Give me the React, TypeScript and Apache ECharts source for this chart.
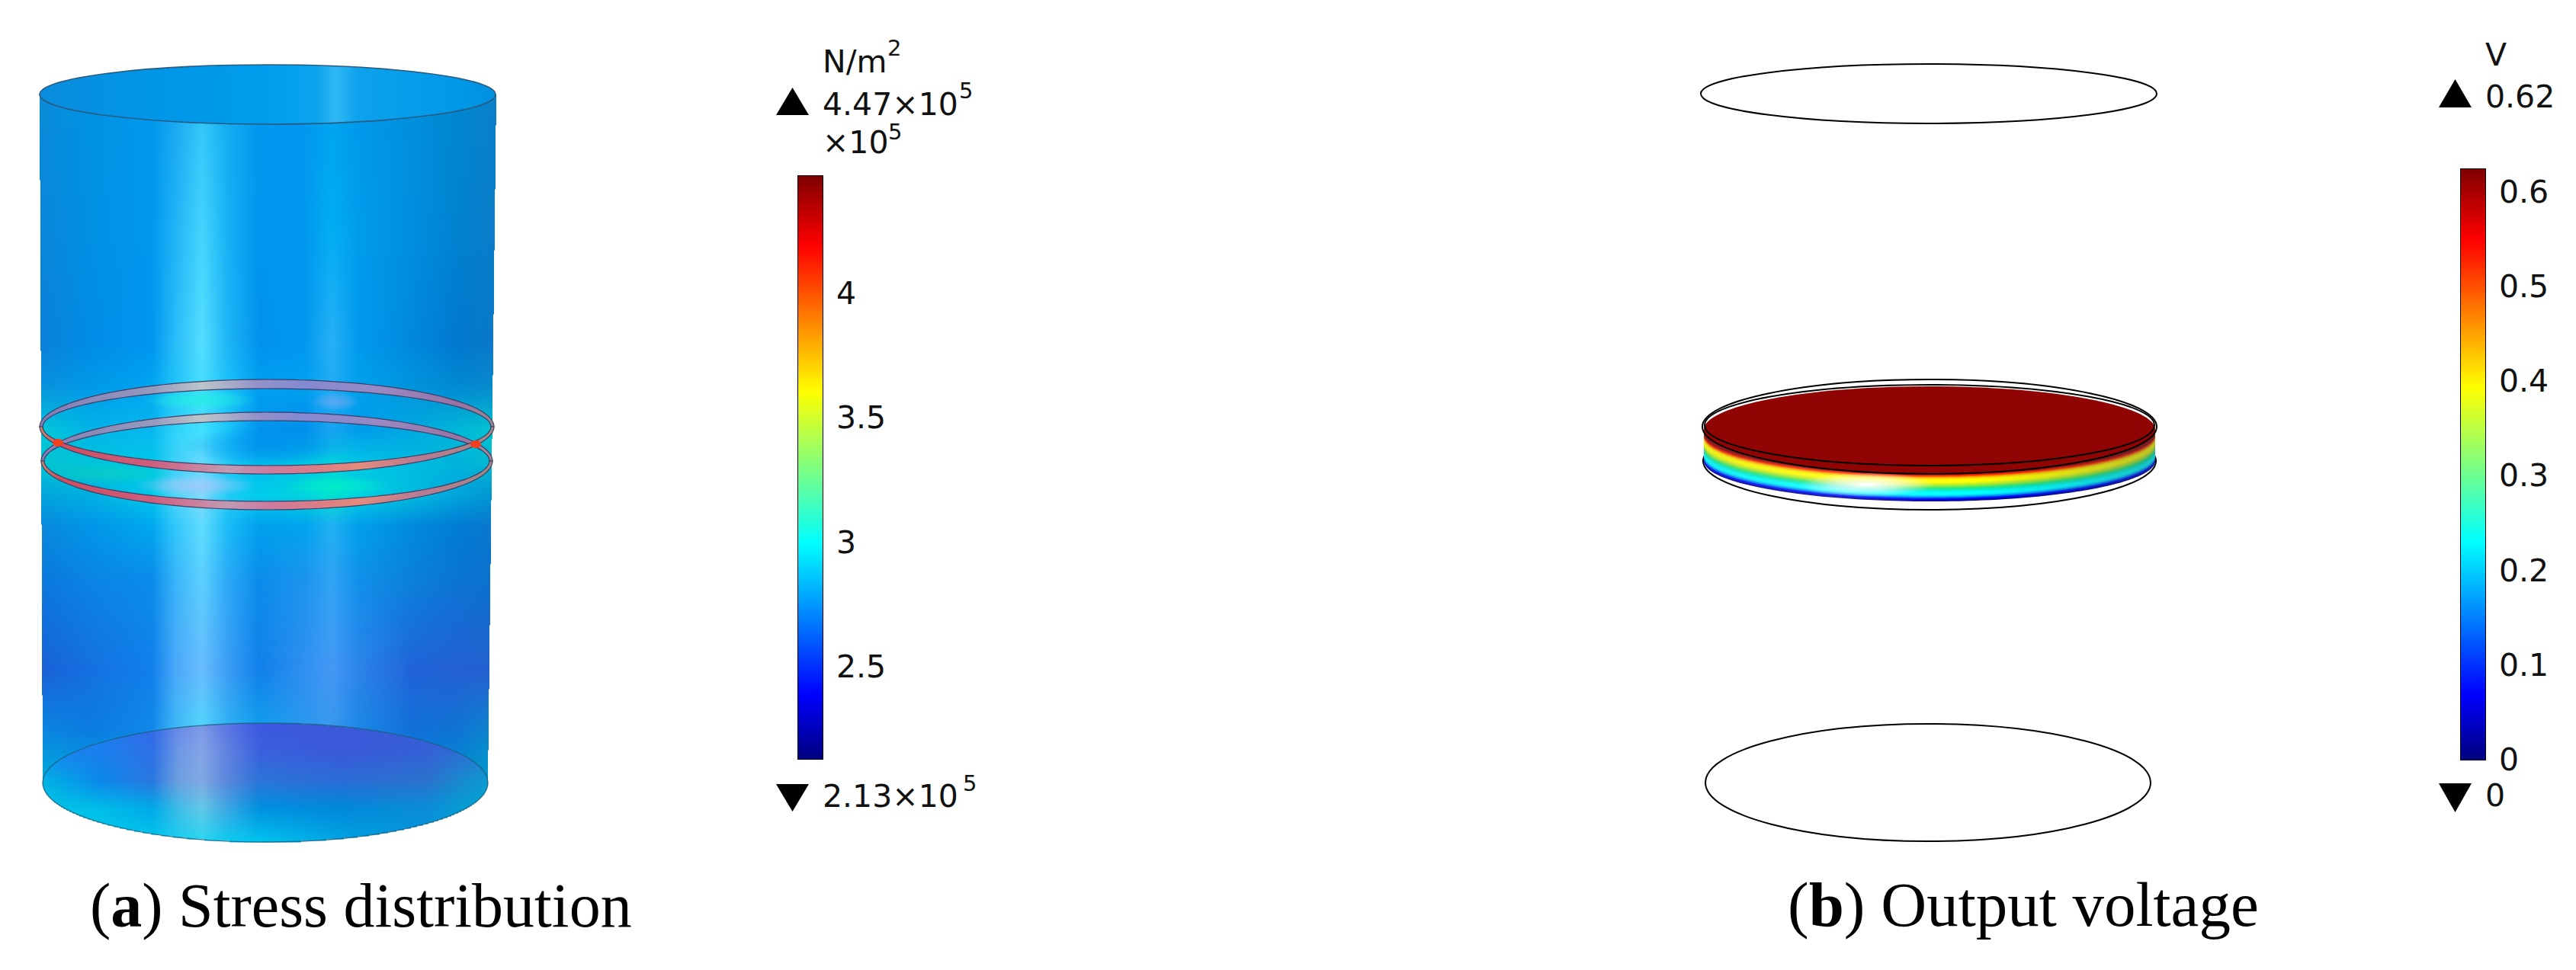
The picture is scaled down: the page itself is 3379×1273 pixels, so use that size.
import React, { useEffect, useRef } from "react";
import * as echarts from "echarts";

const stressTicks = [2.5, 3, 3.5, 4];
const stressMin = 2.13;
const stressMax = 4.47;
const voltageTicks = [0, 0.1, 0.2, 0.3, 0.4, 0.5, 0.6];
const voltageMin = 0;
const voltageMax = 0.624;
const jetStops = [
  [0, "#00007f"], [0.11, "#0000ff"], [0.37, "#00ffff"], [0.5, "#7fff7f"],
  [0.63, "#ffff00"], [0.88, "#ff0000"], [1, "#7f0000"],
] as [number, string][];

// Surface shading: colour profiles across the cylinder at several heights.
const bodyX = [52, 120, 200, 230, 265, 300, 340, 400, 435, 470, 540, 600, 650];
const bodyRows: [number, string[]][] = [
  [124, ["#0a8cd8", "#0092e4", "#0098ea", "#18a6f0", "#30c4f8", "#10acf0", "#0098ee", "#0098ee", "#00a2f0", "#0098ea", "#0090dc", "#0086d0", "#0a80c8"]],
  [300, ["#0a86d8", "#0090e4", "#0098ee", "#20b4f6", "#44d4fc", "#14b0f4", "#0096ee", "#0098ee", "#00aef2", "#009cec", "#008ede", "#0082d0", "#0a7cc8"]],
  [450, ["#0a80d8", "#008ce6", "#0096f0", "#28bcf8", "#54defe", "#1cb4f6", "#0092ee", "#0098f0", "#28b0f6", "#009aee", "#0088de", "#0078ce", "#0a78c8"]],
  [505, ["#0a90dc", "#0098e8", "#00a4f0", "#20c4f8", "#48dcfe", "#18c0f8", "#00a0f0", "#00a0f0", "#20acf4", "#00a0ec", "#0094dc", "#0088d2", "#0a88cc"]],
  [565, ["#00c8d8", "#00b4e8", "#08b8f0", "#30d4fa", "#40e0fe", "#18c4f8", "#0094ee", "#0090ec", "#18a4f0", "#009cec", "#00a8e0", "#00b8d8", "#00c4d0"]],
  [610, ["#00c4d0", "#00c4d8", "#00c8e8", "#40d0f8", "#68d8fc", "#20c8f6", "#00bcec", "#00c8e4", "#00d4dc", "#00c8e4", "#00bce0", "#00b4dc", "#00b8d0"]],
  [650, ["#00a4dc", "#00b0e0", "#00c8e8", "#50d4f8", "#80d8fc", "#20ccf6", "#00ccec", "#00d4dc", "#00e0d0", "#00d0e0", "#00bce0", "#00a4dc", "#0094d0"]],
  [690, ["#0a88dc", "#0096e8", "#00a8f0", "#30c8fa", "#60dcfe", "#18bcf6", "#00a0ee", "#00a4ee", "#20b0f2", "#00a0ec", "#008adc", "#007cd4", "#0a76cc"]],
  [760, ["#0a78dc", "#0a84e4", "#0a8cea", "#38b4f8", "#5cd0fe", "#2aa8f6", "#0a8cea", "#1c94ee", "#30a4f4", "#1090ea", "#0a80dc", "#0a74d4", "#0a72cc"]],
  [880, ["#1a60d8", "#1470e0", "#1080ec", "#4aa8f8", "#68bcfc", "#3a9cf4", "#1080ea", "#3090f0", "#4498f4", "#2c84ea", "#2064d8", "#2460d4", "#2460d0"]],
  [960, ["#0a86e0", "#0a7ce0", "#1088e8", "#3cb8f6", "#52d8fc", "#2cb0f2", "#10a0ec", "#2a98ee", "#3898ee", "#1a88e6", "#1070d8", "#0e74d4", "#0a88cc"]],
  [1030, ["#00b0d8", "#00a8e0", "#00a8e8", "#20bcf0", "#40d0f8", "#10b0f0", "#0098e8", "#0098e8", "#1098e8", "#0090e0", "#0088d8", "#0090d0", "#00a0c8"]],
];
const capX = [56, 130, 200, 235, 265, 295, 340, 450, 560, 640];
const bottomCapRows: [number, string[]][] = [
  [949, ["#1a80ec", "#1a80ec", "#3468e8", "#6a88e8", "#7c98e6", "#5c78e4", "#3c58e0", "#3a58d8", "#3a5cd8", "#2a70d0"]],
  [985, ["#1a80ec", "#1a80ee", "#2e70e6", "#6e98e6", "#84a4e6", "#6484e0", "#3a60de", "#3a58d8", "#3460d6", "#2a78d0"]],
  [1025, ["#00b4e4", "#0a88ea", "#2a78e0", "#6ea0e0", "#80a8e2", "#5c88dc", "#2c74d8", "#2a6cd6", "#2a72cc", "#0a9cd0"]],
  [1060, ["#00c4e4", "#00bce8", "#00a8e8", "#40bce6", "#64c8e6", "#40a8e2", "#0090e0", "#0088d8", "#0c8cd8", "#00a8d0"]],
  [1105, ["#00d0e8", "#00d0e8", "#00c8ec", "#18d0f0", "#28d4f0", "#10ccf0", "#00c4ee", "#00a4e4", "#0098dc", "#00a8d0"]],
];
const topCapX = [52, 200, 340, 415, 440, 470, 600, 650];
const topCapColors = ["#0a8cdc", "#0096e8", "#009cec", "#0aa4ee", "#30b8f4", "#0ca2ec", "#0098e8", "#0090de"];
const ringBackX = [52, 200, 265, 340, 400, 500, 600, 650];
const ringBackColors = ["#8a7ab4", "#9c98bc", "#c2c4c6", "#9a90c8", "#8a88d0", "#a088c0", "#a070a2", "#a08890"];
const ringFrontX = [52, 80, 200, 300, 350, 420, 470, 550, 650];
const ringFrontColors = ["#c88868", "#d84858", "#d85878", "#c898b0", "#d8789c", "#e87880", "#f08878", "#c07890", "#a88880"];
const voltageBand = ["#000090", "#0000ff", "#00a0ff", "#00ffff", "#00ffff", "#00f0d0", "#20e880", "#80ec40", "#d0f020", "#ffff00", "#ffff00", "#ffc000", "#ff2000", "#900404"];

function hexToRgb(c: string) {
  return [1, 3, 5].map((i) => parseInt(c.slice(i, i + 2), 16));
}
function mix(a: string, b: string, t: number) {
  const p = hexToRgb(a), q = hexToRgb(b);
  return "#" + p.map((v, i) => Math.round(v + (q[i] - v) * t).toString(16).padStart(2, "0")).join("");
}
function hGradient(xs: number[], colors: string[]) {
  const a = xs[0], b = xs[xs.length - 1];
  return new echarts.graphic.LinearGradient(a, 0, b, 0,
    xs.map((x, i) => ({ offset: (x - a) / (b - a), color: colors[i] })), true);
}
function rows(keys: [number, string[]][], xs: number[], y0: number, y1: number, step: number, span: (y: number) => [number, number]) {
  const out: any[] = [];
  for (let y = y0; y < y1; y += step) {
    const ym = y + step / 2;
    let k = 0;
    while (k < keys.length - 2 && keys[k + 1][0] < ym) k++;
    const t = Math.min(1, Math.max(0, (ym - keys[k][0]) / (keys[k + 1][0] - keys[k][0])));
    const colors = keys[k][1].map((c, i) => mix(c, keys[k + 1][1][i], t));
    const [l, r] = span(ym);
    if (r <= l) continue;
    out.push({ type: "rect", silent: true, shape: { x: Math.round(l), y, width: Math.round(r) - Math.round(l), height: step + 0.6 }, style: { fill: hGradient(xs, colors) } });
  }
  return out;
}
function ellipseSpan(cx: number, cy: number, rx: number, ry: number) {
  return (y: number): [number, number] => {
    const d = 1 - ((y - cy) / ry) ** 2;
    if (d <= 0) return [0, 0];
    const w = rx * Math.sqrt(d);
    return [cx - w, cx + w];
  };
}
function arcPoints(cx: number, cy: number, rx: number, ry: number, from: number, to: number) {
  const pts: number[][] = [];
  for (let i = 0; i <= 80; i++) {
    const a = from + ((to - from) * i) / 80;
    pts.push([cx + rx * Math.cos(a), cy + ry * Math.sin(a)]);
  }
  return pts;
}
function crescent(cx: number, cy: number, rx: number, ryOut: number, ryIn: number, back: boolean, fill: any, side: number) {
  const f = back ? Math.PI : 0;
  const t = back ? 2 * Math.PI : Math.PI;
  const pts = [...arcPoints(cx, cy, rx, ryOut, f, t), ...arcPoints(cx, cy, rx - side, ryIn, t, f)];
  return { type: "polygon", silent: true, shape: { points: pts }, style: { fill, stroke: "#3a3a60", lineWidth: 1.2, opacity: 0.95 } };
}
function blob(cx: number, cy: number, rx: number, ry: number, color: string, alpha: number) {
  const rgb = hexToRgb(color).join(",");
  return {
    type: "ellipse", silent: true, shape: { cx, cy, rx, ry },
    style: {
      fill: new echarts.graphic.RadialGradient(0.5, 0.5, 0.5, [
        { offset: 0, color: `rgba(${rgb},${alpha})` },
        { offset: 0.5, color: `rgba(${rgb},${alpha * 0.6})` },
        { offset: 1, color: `rgba(${rgb},0)` },
      ]),
    },
  };
}
function txt(x: number, base: number, text: string, size: number) {
  return {
    type: "text", silent: true, x, y: base - 0.9 * size, z: 10,
    style: { text, font: `${size}px "DejaVu Sans"`, fill: "#111", verticalAlign: "top", align: "left" },
  };
}
function tri(xl: number, xr: number, yBase: number, yTip: number) {
  return { type: "polygon", silent: true, shape: { points: [[xl, yBase], [xr, yBase], [(xl + xr) / 2, yTip]] }, style: { fill: "#000" } };
}
function caption(x: number, base: number, letter: string, rest: string, size: number) {
  return {
    type: "text", silent: true, x, y: base - 30, z: 10,
    style: {
      text: `{r|(}{b|${letter}}{r|) ${rest}}`, verticalAlign: "middle", align: "left",
      rich: {
        r: { font: `${size}px "Liberation Serif"`, fill: "#000" },
        b: { font: `bold ${size}px "Liberation Serif"`, fill: "#000" },
      },
    },
  };
}
function colorBar(grid: number, axisBase: number, min: number, max: number, ticks: number[], fmt: (v: number) => string) {
  const tickLine = { show: true, inside: true, length: 6, lineStyle: { color: "#000", width: 2 }, customValues: ticks };
  const line = { show: true, onZero: false, lineStyle: { color: "#000", width: 2 } };
  const y = (position: string, showLabel: boolean) => ({
    type: "value", gridIndex: grid, position, min, max, splitLine: { show: false },
    axisLine: line, axisTick: tickLine,
    axisLabel: {
      show: showLabel, margin: 18, customValues: ticks, formatter: fmt,
      color: "#111", fontSize: 41, fontFamily: "DejaVu Sans",
    },
  });
  const x = (position: string) => ({
    type: "category", gridIndex: grid, position, data: ["c"],
    axisLine: line, axisTick: { show: false }, axisLabel: { show: false }, splitLine: { show: false },
  });
  return {
    x: [x("bottom"), x("top")],
    y: [y("left", false), y("right", true)],
    s: {
      type: "bar", xAxisIndex: axisBase, yAxisIndex: axisBase, data: [max], barWidth: "100%", silent: true,
      itemStyle: {
        color: new echarts.graphic.LinearGradient(0, 1, 0, 0, jetStops.map(([offset, color]) => ({ offset, color }))),
      },
    },
  };
}

function buildGraphics() {
  const g: any[] = [];
  const leftAt = (y: number) => 52 + ((y - 124) / 901) * 4;
  const rightAt = (y: number) => 651 - ((y - 124) / 901) * 11;
  // Cylinder body
  g.push(...rows(bodyRows, bodyX, 124, 1026, 4, (y) => [leftAt(y), rightAt(y)]));
  // Top cap
  g.push({ type: "ellipse", silent: true, shape: { cx: 351, cy: 124, rx: 299, ry: 39 }, style: { fill: hGradient(topCapX, topCapColors), stroke: "#2a5a80", lineWidth: 1.6 } });
  // Bottom cap
  g.push(...rows(bottomCapRows, capX, 949, 1104, 2, ellipseSpan(348, 1027, 292, 78)));
  g.push({ type: "ellipse", silent: true, shape: { cx: 348, cy: 1027, rx: 292, ry: 78 }, style: { fill: "none", stroke: "#1d5f80", lineWidth: 1.4, opacity: 0.8 } });
  // Glows around the rings
  g.push(blob(262, 525, 75, 14, "#20f0e0", 0.8));
  g.push(blob(440, 527, 32, 12, "#6aa8f4", 0.8));
  g.push(blob(353, 585, 110, 26, "#0088ee", 0.6));
  g.push(blob(256, 637, 80, 14, "#a8c8fa", 0.75));
  g.push(blob(442, 638, 70, 14, "#00f0c8", 0.8));
  g.push(blob(140, 622, 90, 14, "#10d8b0", 0.45));
  // Rings
  const back = hGradient(ringBackX, ringBackColors);
  const front = hGradient(ringFrontX, ringFrontColors);
  g.push(crescent(350, 605, 296, 64, 53, true, back, 4));
  g.push(crescent(350, 560, 298, 62, 50, true, back, 4));
  g.push(crescent(350, 605, 296, 64, 53, false, front, 4));
  g.push(crescent(350, 560, 298, 62, 51, false, front, 4));
  g.push({ type: "ellipse", silent: true, shape: { cx: 76, cy: 581, rx: 7, ry: 5 }, style: { fill: "#f04020" } });
  g.push({ type: "ellipse", silent: true, shape: { cx: 624, cy: 583, rx: 7, ry: 5 }, style: { fill: "#f04020" } });

  // Voltage panel outlines
  const outline = (cx: number, cy: number, rx: number, ry: number) => ({
    type: "ellipse", silent: true, shape: { cx, cy, rx, ry }, style: { fill: "none", stroke: "#000", lineWidth: 2 },
  });
  g.push(outline(2530, 123, 299, 39));
  g.push(outline(2529, 1027, 292, 77));
  g.push(outline(2531, 605, 297, 64));
  // Disc rim: stacked ellipses from the lowest colour upwards
  const cyB = 605, cyT = 569, n = voltageBand.length;
  const steps = 36;
  for (let i = steps; i >= 0; i--) {
    const p = (1 - i / steps) * (n - 1);
    const j = Math.min(n - 2, Math.floor(p));
    const c = mix(voltageBand[j], voltageBand[j + 1], p - j);
    const cy = cyT + (i / steps) * (cyB - cyT);
    g.push({
      type: "ellipse", silent: true, shape: { cx: 2531, cy, rx: 296, ry: 53 },
      style: {
        fill: new echarts.graphic.LinearGradient(0, 0, 1, 0, [
          { offset: 0, color: mix(c, "#8898a0", 0.15) },
          { offset: 0.3, color: mix(c, "#ffffff", 0.12) },
          { offset: 0.6, color: c },
          { offset: 1, color: mix(c, "#405060", 0.35) },
        ]),
      },
    });
  }
  g.push(blob(2448, 636, 90, 16, "#ffffff", 1));
  g.push({ type: "ellipse", silent: true, shape: { cx: 2531, cy: 564, rx: 296, ry: 57 }, style: { fill: "#900404" } });
  g.push(outline(2531, 558, 295, 53));
  g.push(outline(2531, 560, 298, 62));

  // Legend text, panel a
  g.push(tri(1018, 1061, 151, 115), tri(1018, 1061, 1029, 1065));
  g.push(txt(1079, 97, "N/m", 41), txt(1164, 75, "2", 29));
  g.push(txt(1079, 153, "4.47×10", 41), txt(1258, 131, "5", 29));
  g.push(txt(1079, 203, "×10", 41), txt(1165, 185, "5", 29));
  g.push(txt(1079, 1061, "2.13×10", 41), txt(1263, 1040, "5", 29));
  // Legend text, panel b
  g.push(tri(3199, 3242, 141, 104), tri(3199, 3242, 1028, 1066));
  g.push(txt(3260, 88, "V", 41), txt(3260, 143, "0.62", 41), txt(3260, 1060, "0", 41));
  // Captions
  g.push(caption(118, 1218, "a", "Stress distribution", 82));
  g.push(caption(2345, 1217, "b", "Output voltage", 83));
  return g;
}

export default function App() {
  const ref = useRef<HTMLDivElement>(null);
  useEffect(() => {
    document.body.style.margin = "0";
    document.body.style.overflow = "hidden";
    const chart = echarts.init(ref.current!, null, { renderer: "svg" });
    const a = colorBar(0, 0, stressMin, stressMax, stressTicks, (v) => String(v));
    const b = colorBar(1, 2, voltageMin, voltageMax, voltageTicks, (v) => String(v));
    chart.setOption({
      animation: false,
      backgroundColor: "#fff",
      grid: [
        { left: 1047, top: 231, width: 32, height: 765 },
        { left: 3228, top: 222, width: 32, height: 775 },
      ],
      xAxis: [...a.x, ...b.x],
      yAxis: [...a.y, ...b.y],
      series: [a.s, b.s],
      graphic: { elements: buildGraphics() },
    });
    return () => chart.dispose();
  }, []);
  return <div ref={ref} style={{ width: 3379, height: 1273 }} />;
}
